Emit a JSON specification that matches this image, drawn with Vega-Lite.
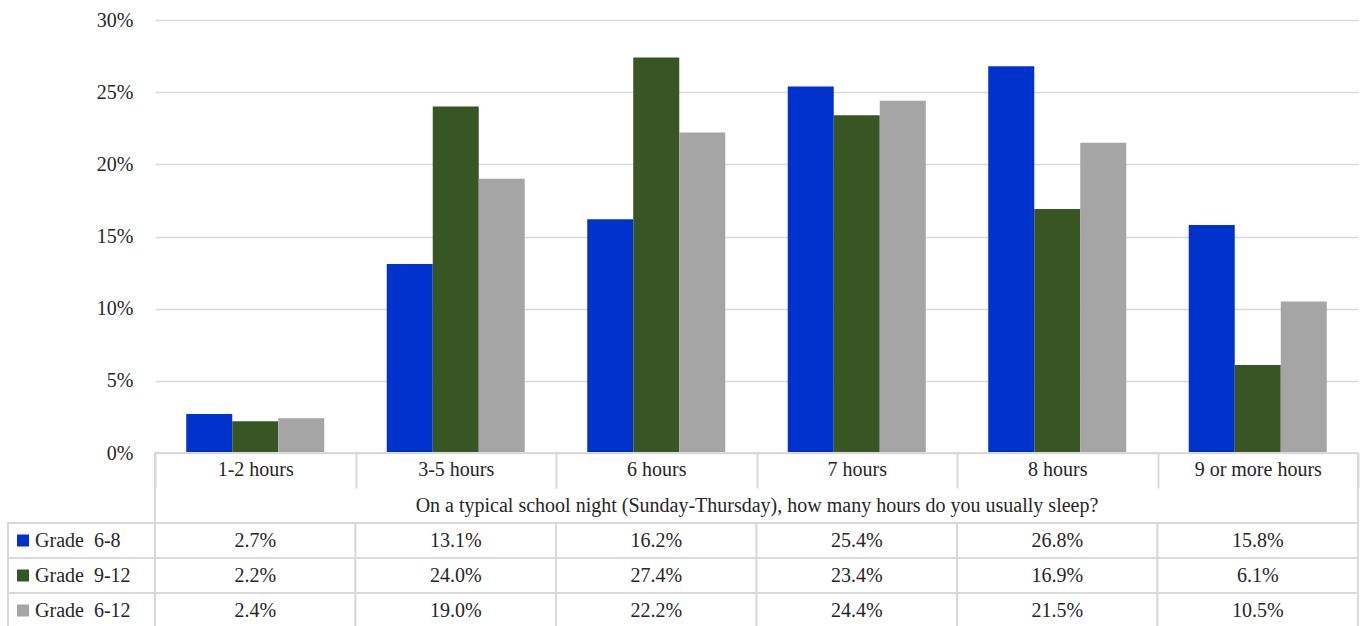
{
  "$schema": "https://vega.github.io/schema/vega-lite/v6.json",
  "padding": {"left": 7, "top": 10, "right": 4, "bottom": 0},
  "background": "white",
  "config": {"view": {"stroke": null}, "font": "Liberation Serif"},
  "datasets": {
    "vals": [
      {"hours": "1-2 hours", "grade": "Grade 6-8", "pct": 0.027},
      {"hours": "3-5 hours", "grade": "Grade 6-8", "pct": 0.131},
      {"hours": "6 hours", "grade": "Grade 6-8", "pct": 0.162},
      {"hours": "7 hours", "grade": "Grade 6-8", "pct": 0.254},
      {"hours": "8 hours", "grade": "Grade 6-8", "pct": 0.268},
      {"hours": "9 or more hours", "grade": "Grade 6-8", "pct": 0.158},
      {"hours": "1-2 hours", "grade": "Grade 9-12", "pct": 0.022},
      {"hours": "3-5 hours", "grade": "Grade 9-12", "pct": 0.240},
      {"hours": "6 hours", "grade": "Grade 9-12", "pct": 0.274},
      {"hours": "7 hours", "grade": "Grade 9-12", "pct": 0.234},
      {"hours": "8 hours", "grade": "Grade 9-12", "pct": 0.169},
      {"hours": "9 or more hours", "grade": "Grade 9-12", "pct": 0.061},
      {"hours": "1-2 hours", "grade": "Grade 6-12", "pct": 0.024},
      {"hours": "3-5 hours", "grade": "Grade 6-12", "pct": 0.190},
      {"hours": "6 hours", "grade": "Grade 6-12", "pct": 0.222},
      {"hours": "7 hours", "grade": "Grade 6-12", "pct": 0.244},
      {"hours": "8 hours", "grade": "Grade 6-12", "pct": 0.215},
      {"hours": "9 or more hours", "grade": "Grade 6-12", "pct": 0.105}
    ],
    "grades": [
      {"grade": "Grade 6-8", "label": "Grade\u00a0 6-8"},
      {"grade": "Grade 9-12", "label": "Grade\u00a0 9-12"},
      {"grade": "Grade 6-12", "label": "Grade\u00a0 6-12"}
    ]
  },
  "columns": 2,
  "spacing": 0,
  "bounds": "flush",
  "concat": [
    {
      "width": 147,
      "height": 433,
      "data": {"values": []},
      "mark": "point"
    },
    {
      "width": 1203,
      "height": 433,
      "data": {"name": "vals"},
      "mark": {"type": "bar"},
      "encoding": {
        "x": {
          "field": "hours",
          "type": "nominal",
          "scale": {
            "domain": ["1-2 hours", "3-5 hours", "6 hours", "7 hours", "8 hours", "9 or more hours"],
            "paddingInner": 0,
            "paddingOuter": 0
          },
          "axis": {
            "title": "On a typical school night (Sunday-Thursday), how many hours do you usually sleep?",
            "labelAngle": 0,
            "domain": false,
            "ticks": true,
            "tickBand": "extent",
            "tickSize": 35,
            "tickColor": "#d9d9d9",
            "tickWidth": 2,
            "labelPadding": -29,
            "labelBaseline": "top",
            "labelFontSize": 20,
            "labelColor": "#262626",
            "titleFontSize": 20,
            "titleFontWeight": "normal",
            "titleColor": "#262626",
            "titleY": 52,
            "titleBaseline": "middle",
            "grid": false
          }
        },
        "xOffset": {
          "field": "grade",
          "type": "nominal",
          "scale": {"domain": ["Grade 6-8", "Grade 9-12", "Grade 6-12"], "paddingInner": 0, "paddingOuter": 0.679}
        },
        "y": {
          "field": "pct",
          "type": "quantitative",
          "scale": {"domain": [0, 0.3], "nice": false},
          "axis": {
            "format": ".0%",
            "values": [0, 0.05, 0.1, 0.15, 0.2, 0.25, 0.3],
            "grid": true,
            "gridColor": "#d9d9d9",
            "gridWidth": 1.5,
            "domain": false,
            "ticks": false,
            "labelPadding": 22,
            "labelFontSize": 20,
            "labelColor": "#262626",
            "title": null
          }
        },
        "color": {
          "field": "grade",
          "type": "nominal",
          "scale": {"domain": ["Grade 6-8", "Grade 9-12", "Grade 6-12"], "range": ["#0033cc", "#375623", "#a5a5a5"]},
          "legend": null
        }
      }
    },
    {
      "width": 147,
      "height": 175,
      "data": {"name": "grades"},
      "encoding": {
        "y": {
          "field": "grade",
          "type": "nominal",
          "scale": {"domain": ["cat", "title", "Grade 6-8", "Grade 9-12", "Grade 6-12"], "paddingInner": 0, "paddingOuter": 0},
          "axis": null
        }
      },
      "layer": [
        {
          "mark": {"type": "rect", "fill": "white", "stroke": "#d9d9d9", "strokeWidth": 2},
          "encoding": {
            "x": {"datum": "c", "type": "nominal", "scale": {"paddingInner": 0, "paddingOuter": 0}, "axis": null}
          }
        },
        {
          "mark": {"type": "point", "shape": "square", "filled": true, "size": 144, "opacity": 1},
          "encoding": {
            "x": {"datum": "c", "type": "nominal", "bandPosition": 0.102},
            "color": {
              "field": "grade",
              "type": "nominal",
              "scale": {"domain": ["Grade 6-8", "Grade 9-12", "Grade 6-12"], "range": ["#0033cc", "#375623", "#a5a5a5"]},
              "legend": null
            }
          }
        },
        {
          "mark": {"type": "text", "align": "left", "fontSize": 20, "color": "#262626"},
          "encoding": {
            "x": {"datum": "c", "type": "nominal", "bandPosition": 0.184},
            "text": {"field": "label"}
          }
        }
      ]
    },
    {
      "width": 1203,
      "height": 175,
      "view": {"stroke": "#d9d9d9", "strokeWidth": 2},
      "data": {"name": "vals"},
      "encoding": {
        "x": {
          "field": "hours",
          "type": "nominal",
          "scale": {"domain": ["1-2 hours", "3-5 hours", "6 hours", "7 hours", "8 hours", "9 or more hours"], "paddingInner": 0, "paddingOuter": 0},
          "axis": null
        },
        "y": {
          "field": "grade",
          "type": "nominal",
          "scale": {"domain": ["cat", "title", "Grade 6-8", "Grade 9-12", "Grade 6-12"], "paddingInner": 0, "paddingOuter": 0},
          "axis": null
        }
      },
      "layer": [
        {"mark": {"type": "rect", "fill": "white", "stroke": "#d9d9d9", "strokeWidth": 2}},
        {
          "mark": {"type": "text", "fontSize": 20, "color": "#262626"},
          "encoding": {"text": {"field": "pct", "type": "quantitative", "format": ".1%"}}
        }
      ]
    }
  ]
}
